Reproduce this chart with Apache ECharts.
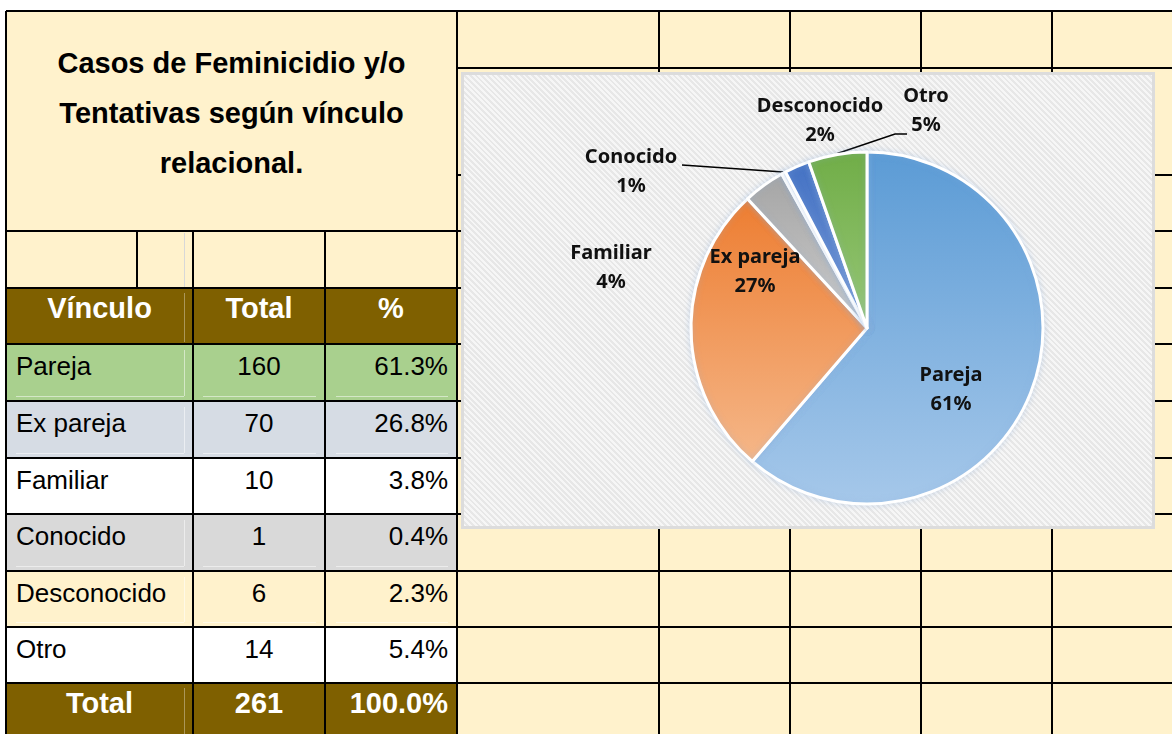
<!DOCTYPE html>
<html>
<head>
<meta charset="utf-8">
<script src="https://cdn.jsdelivr.net/npm/echarts@6/dist/echarts.min.js"></script>
<style>
html,body{margin:0;padding:0;background:#fff;}
#page{position:relative;width:1172px;height:734px;overflow:hidden;font-family:'Liberation Sans',Arial,sans-serif;color:#000;}
.abs{position:absolute;white-space:nowrap;}
#chartBox{position:absolute;left:461px;top:72px;width:694px;height:457px;box-sizing:border-box;border:3px solid #dcdcdc;
  background:repeating-linear-gradient(45deg,#f6f6f6 0px,#f6f6f6 2px,#e7e7e7 2px,#e7e7e7 4px);z-index:5;}
#chart{position:absolute;left:461px;top:72px;width:694px;height:457px;z-index:6;}
</style>
</head>
<body>
<div id="page"><div id="chartBox"></div><div id="chart"></div></div>
<script>
// ---------- DATA ----------
const titleLines = ['Casos de Feminicidio y/o', 'Tentativas según vínculo', 'relacional.'];
const headers = ['Vínculo', 'Total', '%'];
const categories = ['Pareja', 'Ex pareja', 'Familiar', 'Conocido', 'Desconocido', 'Otro'];
const totals = [160, 70, 10, 1, 6, 14];
const percents = ['61.3%', '26.8%', '3.8%', '0.4%', '2.3%', '5.4%'];
const totalRow = ['Total', '261', '100.0%'];

// ---------- LAYOUT / STYLE ----------
const colX = [6, 193, 325, 457];
const bodyRowY = [344, 401, 458, 514, 571, 627, 683];
const rowFills = ['#a9d08e', '#d6dce4', '#ffffff', '#d9d9d9', '#fff2cc', '#ffffff'];
const hLinesFull = [11, 231, 288, 344, 401, 458, 514, 571, 627, 683];
const hLinesRight = [68, 175];
const vLinesFull = [6, 457, 659, 790, 921, 1052];
const vLinesTable = [193, 325];
const sliceColors = [
  ['#5b9bd5', '#a6c8ea'],
  ['#ed7d31', '#f5b789'],
  ['#a5a5a5', '#cccccc'],
  ['#ffffff', '#ffffff'],
  ['#4472c4', '#7598d6'],
  ['#70ad47', '#97c777']
];
const pieCenter = [406, 256];
const pieRadius = 176;
// label block centres (chart px) and leader-line shapes
const labelSpots = [[490, 318], [294, 200], [150, 196], [170, 100], [359, 49], [465, 39]];
const leaders = [null, null, null, {end: [51, -7]}, null, {knee: [-31, 23], end: [-19, 23]}];

const page = document.getElementById('page');
function box(x, y, w, h, css) {
  const d = document.createElement('div');
  d.className = 'abs';
  d.style.left = x + 'px'; d.style.top = y + 'px';
  if (w != null) d.style.width = w + 'px';
  if (h != null) d.style.height = h + 'px';
  Object.assign(d.style, css || {});
  page.insertBefore(d, document.getElementById('chartBox'));
  return d;
}
function txt(str, x, y, w, css) {
  const d = box(x, y, w, null, css);
  d.textContent = str;
  return d;
}

// fills
box(457, 11, 715, 723, {background: '#fff2cc'});
box(6, 11, 451, 220, {background: '#fff2cc'});
box(6, 231, 451, 57, {background: '#fff2cc'});
box(6, 288, 451, 56, {background: '#7f6000'});
for (let i = 0; i < categories.length; i++) {
  box(6, bodyRowY[i], 451, bodyRowY[i + 1] - bodyRowY[i], {background: rowFills[i]});
}
box(6, 683, 451, 51, {background: '#7f6000'});

// faint inner cell borders
const faint = 'rgba(255,255,255,0.5)';
box(184, 233, 1, 55, {background: '#d8d8d8'});
box(184, 293, 1, 49, {background: 'rgba(255,255,255,0.35)'});
box(184, 688, 1, 46, {background: 'rgba(255,255,255,0.35)'});
for (let i = 0; i < categories.length; i++) {
  const t = bodyRowY[i], b = bodyRowY[i + 1];
  box(184, t + 6, 1, b - t - 11, {background: faint});
  [[16, 184], [203, 316], [336, 448]].forEach(s => box(s[0], b - 5, s[1] - s[0], 1, {background: faint}));
}

// black grid lines
hLinesFull.forEach(y => box(6, y - 1, 1166, 2, {background: '#000'}));
hLinesRight.forEach(y => box(457, y - 1, 715, 2, {background: '#000'}));
vLinesFull.forEach(x => box(x - 1, 11, 2, 723, {background: '#000'}));
vLinesTable.forEach(x => box(x - 1, 231, 2, 503, {background: '#000'}));
box(136, 231, 2, 57, {background: '#000'});

// title
txt('', 6, 38, 451, {textAlign: 'center', font: 'bold 29px "Liberation Sans", Arial, sans-serif', lineHeight: '50px', whiteSpace: 'normal'})
  .innerHTML = titleLines.join('<br>');

// header
const hdrCss = {font: 'bold 29px "Liberation Sans", Arial, sans-serif', lineHeight: '29px', color: '#fff', textAlign: 'center'};
headers.forEach((h, i) => txt(h, colX[i], 294, colX[i + 1] - colX[i], hdrCss));

// body
const bodyFont = '26px "Liberation Sans", Arial, sans-serif';
for (let i = 0; i < categories.length; i++) {
  const top = bodyRowY[i] + 9;
  txt(categories[i], 16, top, 170, {font: bodyFont, lineHeight: '26px'});
  txt(String(totals[i]), colX[1], top, colX[2] - colX[1], {font: bodyFont, lineHeight: '26px', textAlign: 'center'});
  txt(percents[i], colX[2], top, 123, {font: bodyFont, lineHeight: '26px', textAlign: 'right'});
}
// total row
txt(totalRow[0], colX[0], 689, colX[1] - colX[0], hdrCss);
txt(totalRow[1], colX[1], 689, colX[2] - colX[1], hdrCss);
txt(totalRow[2], colX[2], 689, 123, Object.assign({}, hdrCss, {textAlign: 'right'}));

// ---------- PIE ----------
const chart = echarts.init(document.getElementById('chart'), null, {renderer: 'canvas'});
function grad(c) {
  return {type: 'linear', x: 0, y: 0, x2: 0, y2: 1, colorStops: [{offset: 0, color: c[0]}, {offset: 1, color: c[1]}]};
}
const sumAll = totals.reduce((a, b) => a + b, 0);
function edgePoint(i) {
  // point on the outer arc at the slice's mid-angle (clockwise from 12 o'clock)
  let before = 0;
  for (let k = 0; k < i; k++) before += totals[k];
  const th = (before + totals[i] / 2) / sumAll * Math.PI * 2;
  const R = pieRadius + 1;
  return [pieCenter[0] + R * Math.sin(th), pieCenter[1] - R * Math.cos(th)];
}
chart.setOption({
  animation: false,
  backgroundColor: 'transparent',
  series: [{
    type: 'pie',
    center: pieCenter,
    radius: pieRadius,
    startAngle: 90,
    clockwise: true,
    percentPrecision: 0,
    avoidLabelOverlap: false,
    emphasis: {disabled: true},
    itemStyle: {borderColor: '#ffffff', borderWidth: 3, shadowBlur: 6, shadowColor: 'rgba(140,175,220,0.35)'},
    label: {
      show: true, position: 'outside', formatter: '{b}\n{d}%',
      fontFamily: '"Noto Sans", sans-serif', fontWeight: 'bold', fontSize: 20, lineHeight: 29,
      color: '#111', align: 'center'
    },
    labelLine: {show: true, length: 10, length2: 10, smooth: false, lineStyle: {color: '#000', width: 1.5}},
    data: categories.map((name, i) => ({
      name: name, value: totals[i],
      itemStyle: {color: grad(sliceColors[i])},
      labelLine: {show: leaders[i] != null}
    })),
    labelLayout: function (p) {
      const s = labelSpots[p.dataIndex];
      const out = {x: s[0], y: s[1], align: 'center', verticalAlign: 'middle'};
      const ld = leaders[p.dataIndex];
      if (ld) {
        const start = edgePoint(p.dataIndex);
        const end = [s[0] + ld.end[0], s[1] + ld.end[1]];
        const knee = ld.knee ? [s[0] + ld.knee[0], s[1] + ld.knee[1]] : [(start[0] + end[0]) / 2, (start[1] + end[1]) / 2];
        out.labelLinePoints = [start, knee, end];
      }
      return out;
    }
  }]
});
</script>
</body>
</html>
